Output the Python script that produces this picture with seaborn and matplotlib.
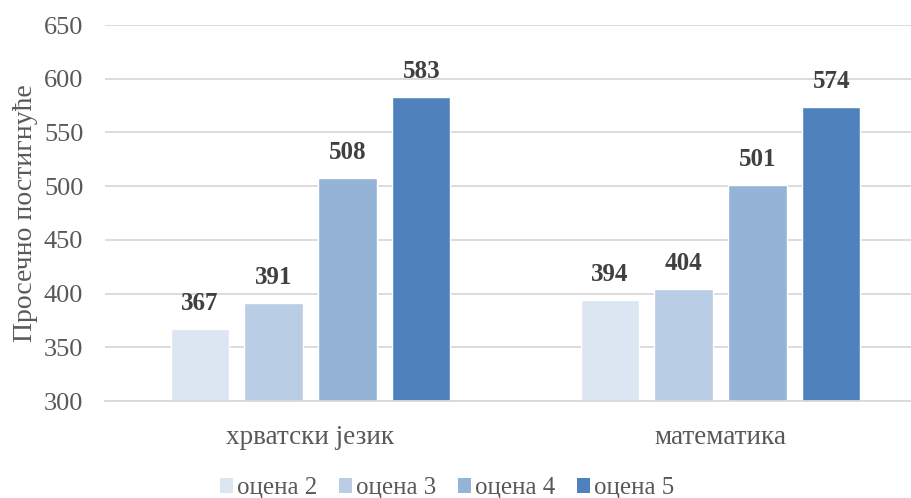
import matplotlib
matplotlib.use('Agg')
import matplotlib.pyplot as plt
import seaborn as sns
import pandas as pd
from matplotlib.patches import Patch

# data
subjects = ['хрватски језик', 'математика']
grades = ['оцена 2', 'оцена 3', 'оцена 4', 'оцена 5']
croatian = [367, 391, 508, 583]
math = [394, 404, 501, 574]
y_label = 'Просечно постигнуће'
colors = ['#DCE6F2', '#B9CDE5', '#95B3D7', '#4F81BD']

rows = []
for g, v in zip(grades, croatian):
    rows.append({'subject': subjects[0], 'grade': g, 'score': v})
for g, v in zip(grades, math):
    rows.append({'subject': subjects[1], 'grade': g, 'score': v})
df = pd.DataFrame(rows)

sns.set_style('white')
plt.rcParams['font.family'] = ['Liberation Serif', 'DejaVu Serif']

fig = plt.figure(figsize=(9.12, 4.98), dpi=100)
ax = fig.add_axes([105.5 / 912, 97 / 498, 820 / 912, 376 / 498])

sns.barplot(data=df, x='subject', y='score', hue='grade', palette=colors,
            width=0.72, gap=0.21, saturation=1, legend=False, ax=ax,
            errorbar=None)

ax.set_ylim(300, 650)
ax.set_xlim(-0.5, 1.5)
ax.set_yticks(range(300, 651, 50))
ax.yaxis.grid(True, color='#D9D9D9', linewidth=1.3)
ax.set_axisbelow(True)
for s in ['top', 'right', 'left']:
    ax.spines[s].set_visible(False)
ax.spines['bottom'].set_color('#D9D9D9')
ax.spines['bottom'].set_linewidth(1.3)
ax.tick_params(axis='y', length=0, pad=16, labelsize=19, labelcolor='#595959')
ax.tick_params(axis='x', length=0, pad=17, labelsize=19.5, labelcolor='#595959')
ax.set_xlabel('')
ax.set_ylabel(y_label, fontsize=20, color='#595959', labelpad=4)

# value labels
for cont in ax.containers:
    ax.bar_label(cont, fmt='%d', padding=10, fontsize=18, fontweight='bold',
                 color='#404040')

handles = [Patch(facecolor=c, edgecolor='none') for c in colors]
fig.legend(handles, grades, loc='lower center', ncol=4, frameon=False,
           bbox_to_anchor=(0.49, -0.047), fontsize=18, handlelength=0.55,
           handleheight=0.55, handletextpad=0.15, columnspacing=0.85,
           labelcolor='#595959')

fig.savefig('out.png', dpi=100)
